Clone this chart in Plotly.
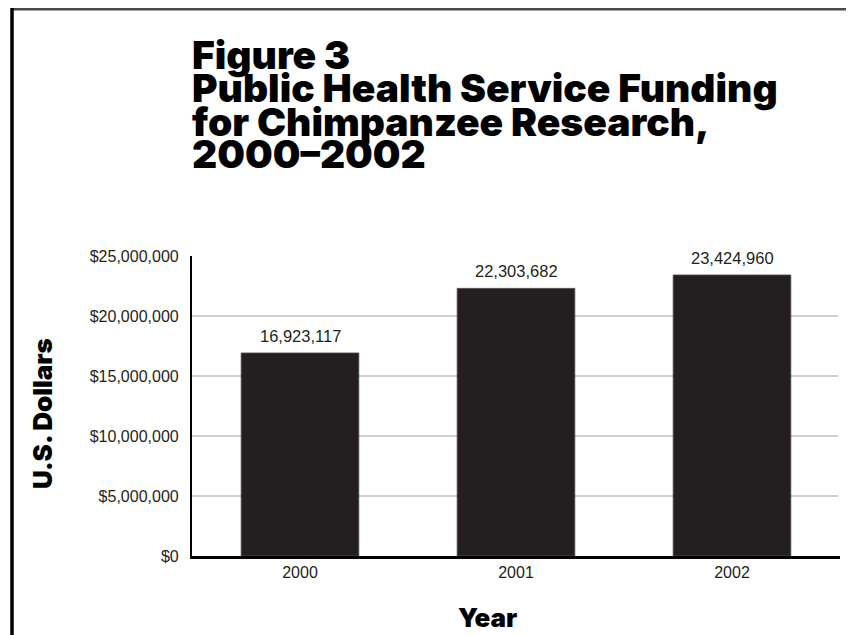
import plotly.graph_objects as go

years = ["2000", "2001", "2002"]
funding = [16923117, 22303682, 23424960]
value_labels = ["16,923,117", "22,303,682", "23,424,960"]
y_ticks = [0, 5000000, 10000000, 15000000, 20000000, 25000000]
y_tick_labels = ["$0", "$5,000,000", "$10,000,000", "$15,000,000", "$20,000,000", "$25,000,000"]
grid_values = [5000000, 10000000, 15000000, 20000000]
title_lines = ["Figure 3", "Public Health Service Funding", "for Chimpanzee Research,", "2000\u20132002"]

# the page has an 8px body margin, so the figure is 8px smaller than the window
OFF = 8
W, H = 854 - OFF, 635 - OFF
ML, MR, MT, MB = 192 - OFF, 14, 256 - OFF, 79
PW = W - ML - MR
PH = H - MT - MB

def px(x):
    return (x - OFF - ML) / PW

def py(y):
    return (H - MB - (y - OFF)) / PH

NARROW = "Liberation Sans, Arial, sans-serif"
HEAVY = "Inter, Liberation Sans, Arial, sans-serif"
BAR = "#231f20"

fig = go.Figure()
fig.add_trace(go.Bar(
    x=years, y=funding,
    marker=dict(color=BAR, line=dict(color="#5a5758", width=0.8)),
    hoverinfo="skip",
))

annotations = []
for i, (v, lab) in enumerate(zip(funding, value_labels)):
    annotations.append(dict(
        x=i, y=v, xref="x", yref="y", text=lab, showarrow=False,
        yanchor="bottom", yshift=6,
        font=dict(family=NARROW, size=16.5, color=BAR),
    ))

title_centers = [54, 87, 121, 154]
for line, cy in zip(title_lines, title_centers):
    annotations.append(dict(
        x=px(190), y=py(cy), xref="paper", yref="paper", text=line,
        showarrow=False, xanchor="left", yanchor="middle",
        font=dict(family=HEAVY, size=39, color="#000000", weight=900),
    ))

annotations.append(dict(
    x=px(42), y=py(414), xref="paper", yref="paper", text="U.S. Dollars",
    showarrow=False, textangle=-90, xanchor="center", yanchor="middle",
    font=dict(family=HEAVY, size=26, color="#000000", weight=900),
))
annotations.append(dict(
    x=px(487), y=py(617), xref="paper", yref="paper", text="Year",
    showarrow=False, xanchor="center", yanchor="middle",
    font=dict(family=HEAVY, size=26, color="#000000", weight=900),
))

shapes = []
for g in grid_values:
    shapes.append(dict(
        type="line", xref="paper", yref="y", x0=0, x1=px(838), y0=g, y1=g,
        line=dict(color="#bfbfbf", width=1.6), layer="below",
    ))
# page frame
shapes.append(dict(type="line", xref="paper", yref="paper",
                   x0=px(11), x1=px(870), y0=py(9), y1=py(9),
                   line=dict(color="#4a4a4a", width=3)))
shapes.append(dict(type="line", xref="paper", yref="paper",
                   x0=px(12), x1=px(12), y0=py(7.5), y1=py(650),
                   line=dict(color="#000000", width=3.5)))

fig.update_layout(
    width=W, height=H,
    margin=dict(l=ML, r=MR, t=MT, b=MB, pad=0),
    paper_bgcolor="white", plot_bgcolor="white",
    showlegend=False,
    bargap=0.455,
    annotations=annotations,
    shapes=shapes,
    xaxis=dict(
        type="category",
        range=[-0.5, 2.5],
        showline=True, linecolor="#000000", linewidth=2.5,
        showgrid=False, ticks="", zeroline=False,
        tickfont=dict(family=NARROW, size=16, color=BAR),
        ticklabelstandoff=0,
    ),
    yaxis=dict(
        range=[0, 25000000],
        tickvals=y_ticks, ticktext=y_tick_labels,
        showline=True, linecolor="#000000", linewidth=2.2,
        showgrid=False, zeroline=False, ticks="",
        tickfont=dict(family=NARROW, size=16, color=BAR),
        ticklabelstandoff=8,
    ),
)

fig.write_html("out.html")
